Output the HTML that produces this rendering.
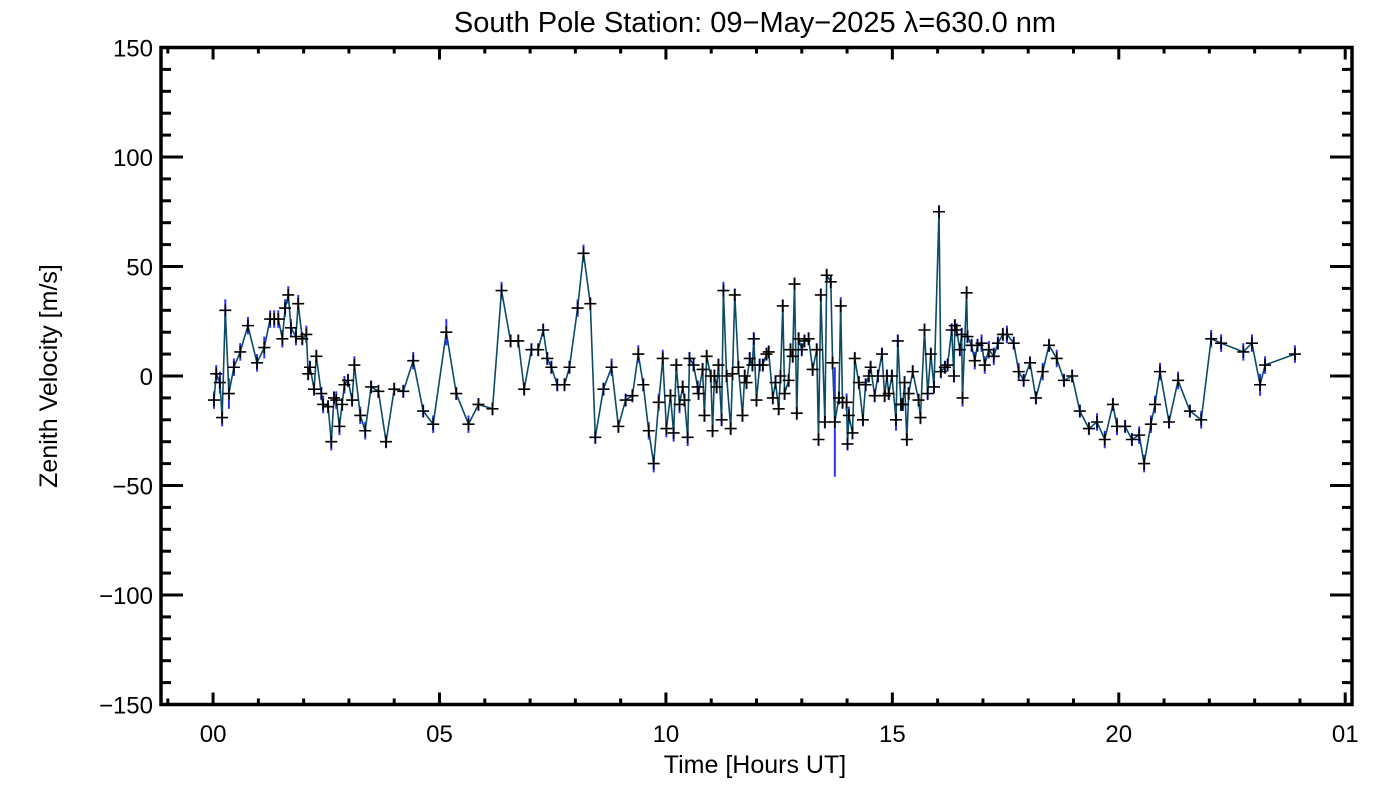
<!DOCTYPE html>
<html><head><meta charset="utf-8"><style>
html,body{margin:0;padding:0;background:#fff;}
svg{display:block;font-family:"Liberation Sans",sans-serif;}
</style></head><body>
<svg id="chart" width="1400" height="800" viewBox="0 0 1400 800" xmlns="http://www.w3.org/2000/svg">
<text x="755" y="32" font-size="29" text-anchor="middle" fill="#000" font-weight="300">South Pole Station: 09−May−2025 λ=630.0 nm</text>
<text x="755" y="773" font-size="25" text-anchor="middle" fill="#000">Time [Hours UT]</text>
<text transform="translate(57,376) rotate(-90)" font-size="25" text-anchor="middle" fill="#000">Zenith Velocity [m/s]</text>
<g id="axes"></g>
<g id="marks"></g>
</svg>
<script>
const hours=[0.02,0.07,0.15,0.20,0.27,0.35,0.46,0.60,0.77,0.97,
1.13,1.26,1.35,1.44,1.53,1.59,1.66,1.72,1.83,1.88,
1.97,2.06,2.10,2.14,2.23,2.28,2.39,2.43,2.54,2.61,
2.67,2.72,2.79,2.85,2.90,2.98,3.07,3.12,3.25,3.36,
3.49,3.65,3.82,4.00,4.20,4.42,4.64,4.86,5.15,5.37,
5.64,5.86,6.17,6.37,6.57,6.74,6.87,7.03,7.18,7.29,
7.38,7.47,7.60,7.76,7.87,8.05,8.18,8.33,8.44,8.62,
8.80,8.95,9.11,9.26,9.39,9.50,9.62,9.73,9.84,9.93,
10.01,10.10,10.17,10.23,10.30,10.37,10.41,10.48,10.52,10.61,
10.70,10.72,10.81,10.85,10.90,10.99,11.03,11.07,11.12,11.16,
11.23,11.27,11.34,11.43,11.47,11.52,11.60,11.69,11.74,11.78,
11.85,11.91,11.94,12.00,12.07,12.14,12.22,12.27,12.36,12.42,
12.49,12.53,12.58,12.62,12.71,12.75,12.80,12.84,12.89,12.93,
13.00,13.06,13.15,13.24,13.33,13.37,13.42,13.51,13.55,13.64,
13.68,13.73,13.82,13.86,13.90,13.99,14.01,14.04,14.12,14.17,
14.26,14.35,14.41,14.48,14.52,14.61,14.68,14.77,14.83,14.88,
14.92,14.99,15.08,15.12,15.19,15.23,15.27,15.32,15.36,15.45,
15.58,15.62,15.71,15.78,15.85,15.92,16.03,16.07,16.16,16.22,
16.31,16.36,16.38,16.42,16.49,16.53,16.55,16.64,16.66,16.75,
16.82,16.88,16.97,17.04,17.13,17.24,17.33,17.44,17.53,17.68,
17.79,17.90,18.04,18.17,18.32,18.46,18.63,18.79,18.97,19.14,
19.34,19.52,19.69,19.87,19.96,20.14,20.29,20.45,20.56,20.71,
20.80,20.91,21.11,21.31,21.57,21.82,22.04,22.26,22.75,22.94,
23.12,23.23,23.89];
const velocity=[-11,1,-3,-19,30,-8,4,11,23,6,
13,26,26,26,17,31,37,22,18,33,
17,19,1,4,-6,9,-8,-13,-14,-30,
-10,-11,-23,-13,-4,-2,-11,5,-18,-25,
-5,-7,-30,-6,-7,7,-16,-22,20,-8,
-22,-13,-15,39,16,16,-6,12,12,21,
8,4,-4,-4,4,31,56,33,-28,-6,
4,-23,-11,-9,10,-4,-25,-40,-12,8,
-24,-9,-26,5,-13,-5,-11,-28,8,5,
-5,-8,3,-18,9,0,-25,0,-5,5,
-20,39,0,-24,1,37,4,-18,0,-3,
8,5,17,-11,5,5,10,11,-10,-3,
-15,0,32,-8,-2,12,9,42,-17,17,
12,16,17,3,12,-29,37,-21,46,43,
6,-21,-10,32,-12,-12,-31,-18,-26,8,
-3,-20,-4,0,4,-9,0,10,-9,0,
-8,0,-20,16,-13,-13,-3,-29,-8,2,
-11,-19,21,-8,10,-5,75,2,4,5,
21,0,23,21,12,19,-10,38,18,14,
7,14,15,5,12,9,15,19,19,15,
2,-2,6,-10,2,14,8,-2,0,-16,
-24,-21,-29,-13,-23,-23,-29,-27,-40,-22,
-13,2,-21,-2,-16,-20,17,15,11,15,
-4,5,10];
const errors=[4,4,5,4,5,7,4,4,4,4,
5,4,4,4,4,4,4,4,4,4,
3,4,3,3,3,3,3,4,3,4,
3,4,4,3,4,3,3,4,4,4,
3,3,3,3,3,4,3,4,6,3,
4,3,3,4,3,3,3,3,3,3,
3,3,3,3,3,4,4,3,3,3,
4,3,3,3,4,3,4,4,4,4,
4,3,4,3,4,3,3,4,3,3,
3,3,3,3,3,3,3,3,3,3,
3,4,3,3,3,3,3,3,3,3,
3,3,3,3,3,3,3,3,3,3,
3,3,3,3,3,3,3,3,3,3,
3,3,3,3,3,3,3,3,3,3,
3,25,3,4,3,4,3,4,3,3,
3,3,3,3,3,3,3,3,3,3,
3,3,5,3,3,3,3,3,3,3,
3,3,3,3,3,3,3,3,3,3,
3,3,3,3,3,3,4,3,3,3,
4,3,4,4,4,4,3,3,4,3,
4,3,3,3,4,3,4,3,3,3,
3,4,4,3,4,3,3,4,4,4,
4,4,3,4,3,4,4,4,4,4,
5,4,4];
const yTickValues=[-150,-100,-50,0,50,100,150];
const yTickLabels=["−150","−100","−50","0","50","100","150"];
const xTickValues=[0,5,10,15,20,25];
const xTickLabels=["00","05","10","15","20","01"];

const L=161,R=1352,T=47.5,B=704.5;
const X0=-1.15,X1=25.15,Y0=-150,Y1=150;
const xs=h=>L+(h-X0)/(X1-X0)*(R-L);
const ys=v=>B-(v-Y0)/(Y1-Y0)*(B-T);
const NS="http://www.w3.org/2000/svg";
function mk(tag,attrs,parent){const e=document.createElementNS(NS,tag);for(const k in attrs)e.setAttribute(k,attrs[k]);parent.appendChild(e);return e;}
const axes=document.getElementById('axes');
const marks=document.getElementById('marks');

for(let v=-150;v<=150;v+=10){
  const major=v%50===0;const len=major?22:10;const y=ys(v);
  const t1=mk('line',{x1:L,x2:L+len,y1:y,y2:y,stroke:'#000','stroke-width':3},axes);
  
  
  const t2=mk('line',{x1:R,x2:R-len,y1:y,y2:y,stroke:'#000','stroke-width':3},axes);
  
  
}
for(let h=-1;h<=25;h+=1){
  const major=h%5===0;const len=major?12:6;const x=xs(h);
  const t1=mk('line',{x1:x,x2:x,y1:B,y2:B-len,stroke:'#000','stroke-width':3},axes);
  
  
  const t2=mk('line',{x1:x,x2:x,y1:T,y2:T+len,stroke:'#000','stroke-width':3},axes);
  
  
}
const frame=mk('rect',{x:L,y:T,width:R-L,height:B-T,fill:'none',stroke:'#000','stroke-width':3.5},axes);


yTickValues.forEach((v,i)=>{
  const t=mk('text',{x:L-8,y:ys(v)+9,'font-size':24,'text-anchor':'end',fill:'#000'},axes);
  t.textContent=yTickLabels[i];
  
  
});
xTickValues.forEach((h,i)=>{
  const t=mk('text',{x:xs(h),y:742,'font-size':24,'text-anchor':'middle',fill:'#000'},axes);
  t.textContent=xTickLabels[i];
  
  
});

hours.forEach((h,i)=>{
  const err=errors[i]===undefined?3:errors[i];
  const e=mk('line',{x1:xs(h),x2:xs(h),y1:ys(velocity[i]-err),y2:ys(velocity[i]+err),stroke:'#3030ff','stroke-width':2},marks);
  
  
});
const pts=hours.map((h,i)=>xs(h).toFixed(1)+','+ys(velocity[i]).toFixed(1)).join(' ');
const pl=mk('polyline',{points:pts,fill:'none',stroke:'#0c4a66','stroke-width':1.6},marks);


hours.forEach((h,i)=>{
  const x=xs(h),y=ys(velocity[i]);
  const m=mk('path',{d:`M${x-6},${y}H${x+6}M${x},${y-6}V${y+6}`,stroke:'#000','stroke-width':1.6,fill:'none'},marks);
  
  
});
</script>
</body></html>
